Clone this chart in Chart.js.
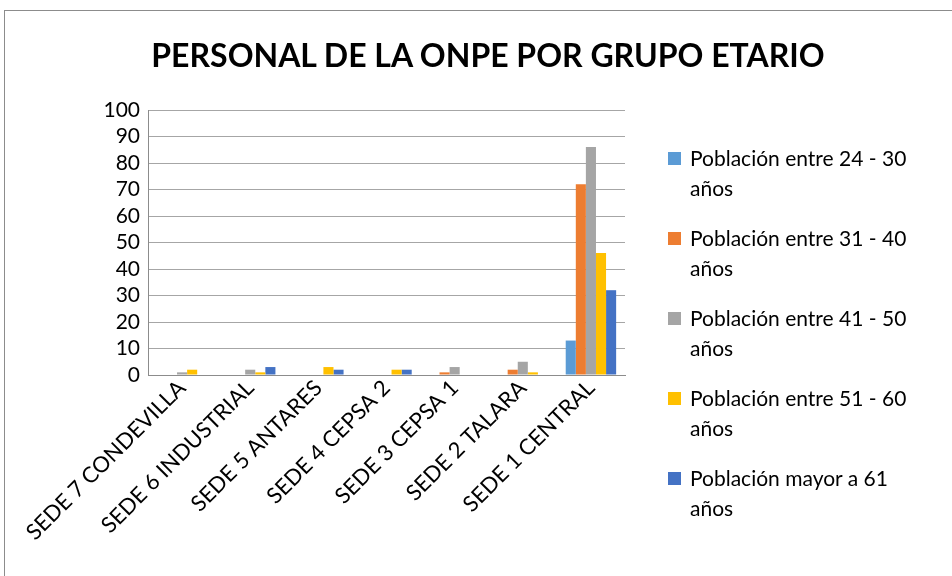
<!DOCTYPE html>
<html>
<head>
<meta charset="utf-8">
<script src="https://cdn.jsdelivr.net/npm/chart.js@4"></script>
<style>
  body { margin: 0; background: #fff; font-family: Lato, sans-serif; }
  #wrap { position: relative; width: 952px; height: 576px; overflow: hidden; }
  #frame { position: absolute; left: 4px; top: 10px; width: 1000px; height: 700px; border: 1px solid #8c8c8c; }
  #title { position: absolute; left: 0; width: 976px; top: 35px; text-align: center; font-weight: bold; font-size: 32px; color: #000; }
  #legend { position: absolute; left: 668px; top: 143px; font-size: 21px; line-height: 30px; color: #000; }
  .item { position: relative; padding-left: 22px; height: 80px; }
  .box { position: absolute; left: 0; top: 9px; width: 13px; height: 13px; }
  canvas { position: absolute; left: 0; top: 0; }
</style>
</head>
<body>
<div id="wrap">
  <div id="frame"></div>
  <canvas id="chart" width="952" height="576"></canvas>
  <div id="title">PERSONAL DE LA ONPE POR GRUPO ETARIO</div>
  <div id="legend"></div>
</div>
<script>
const categories = ["SEDE 7 CONDEVILLA", "SEDE 6 INDUSTRIAL", "SEDE 5 ANTARES", "SEDE 4 CEPSA 2", "SEDE 3 CEPSA 1", "SEDE 2 TALARA", "SEDE 1 CENTRAL"];
const seriesNames = [
  ["Población entre 24 - 30", "años"],
  ["Población entre 31 - 40", "años"],
  ["Población entre 41 - 50", "años"],
  ["Población entre 51 - 60", "años"],
  ["Población mayor a 61", "años"]
];
const pob24a30 = [0, 0, 0, 0, 0, 0, 13];
const pob31a40 = [0, 0, 0, 0, 1, 2, 72];
const pob41a50 = [1, 2, 0, 0, 3, 5, 86];
const pob51a60 = [2, 1, 3, 2, 0, 1, 46];
const pobMas61 = [0, 3, 2, 2, 0, 0, 32];
const colors = ["#5B9BD5", "#ED7D31", "#A5A5A5", "#FFC000", "#4472C4"];

const allSeries = [pob24a30, pob31a40, pob41a50, pob51a60, pobMas61];

// leyenda a la derecha, en HTML para poder partir las líneas
const legendEl = document.getElementById("legend");
seriesNames.forEach((name, i) => {
  const div = document.createElement("div");
  div.className = "item";
  div.innerHTML = `<span class="box" style="background:${colors[i]}"></span>${name[0]}<br>${name[1]}`;
  legendEl.appendChild(div);
});

new Chart(document.getElementById("chart"), {
  type: "bar",
  data: {
    labels: categories,
    datasets: allSeries.map((data, i) => ({
      label: seriesNames[i].join(" "),
      data: data,
      backgroundColor: colors[i],
      categoryPercentage: 0.74,
      barPercentage: 1
    }))
  },
  options: {
    responsive: false,
    animation: false,
    layout: { padding: { top: 110, right: 327, left: 0, bottom: 0 } },
    plugins: { legend: { display: false }, title: { display: false }, tooltip: { enabled: false } },
    scales: {
      x: {
        grid: { display: false, drawTicks: false },
        border: { color: "#8c8c8c", width: 1 },
        ticks: {
          color: "#000",
          font: { family: "Lato", size: 22 },
          minRotation: 45,
          maxRotation: 45,
          autoSkip: false,
          padding: 0
        },
        afterFit: s => { s.height = 201; }
      },
      y: {
        min: 0,
        max: 100,
        ticks: { stepSize: 10, autoSkip: false, color: "#000", font: { family: "Lato", size: 21 }, padding: 8 },
        grid: { color: "#a6a6a6", drawTicks: false },
        border: { color: "#8c8c8c", width: 1 },
        afterFit: s => { s.width = 148; }
      }
    }
  }
});
</script>
</body>
</html>
